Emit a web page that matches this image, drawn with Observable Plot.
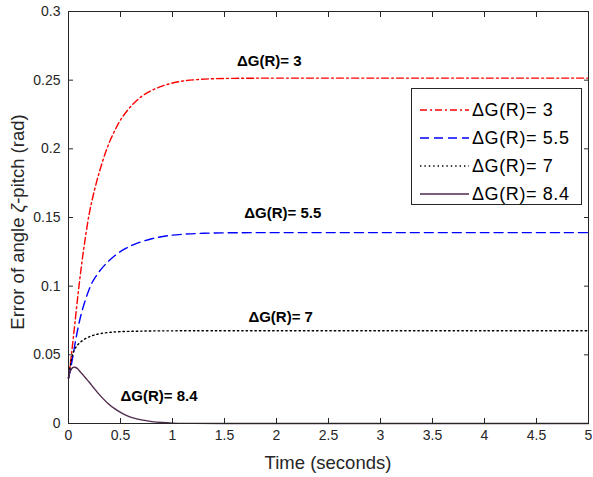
<!DOCTYPE html>
<html><head><meta charset="utf-8">
<script src="https://cdn.jsdelivr.net/npm/d3@7"></script>
<script src="https://cdn.jsdelivr.net/npm/@observablehq/plot@0.6"></script>
<style>
body{margin:0;background:#fff;}
#wrap{position:relative;width:593px;height:477px;font-family:"Liberation Sans",Arial,sans-serif;color:#262626;}
#legend{position:absolute;left:411px;top:88px;width:171px;height:117px;border:1px solid #262626;background:#fff;box-sizing:border-box;}
.row{position:absolute;left:0;height:28px;display:flex;align-items:center;font-size:18px;letter-spacing:0.6px;color:#000;white-space:nowrap;}
.row svg{margin-left:8px;margin-right:3px;}
#ytitle{position:absolute;left:18px;top:222px;transform:translate(-50%,-50%) rotate(-90deg);font-size:18.5px;white-space:nowrap;color:#262626;}
#xtitle{position:absolute;left:328px;top:463px;transform:translate(-50%,-50%);font-size:18.5px;white-space:nowrap;color:#262626;}
</style></head><body><div id="wrap"></div>
<script>
// Series labels
const seriesLabels = ["ΔG(R)= 3", "ΔG(R)= 5.5", "ΔG(R)= 7", "ΔG(R)= 8.4"];
// ΔG(R)=3
const time3 = [0,0.02,0.04,0.06,0.09,0.12,0.15,0.2,0.25,0.3,0.35,0.4,0.45,0.5,0.6,0.7,0.8,0.9,1.0,1.1,1.25,1.4,1.7,2,3,4,5];
const err3  = [0.033,0.045,0.058,0.072,0.093,0.112,0.129,0.153,0.170,0.184,0.196,0.206,0.214,0.221,0.231,0.238,0.2425,0.2457,0.2479,0.2494,0.2505,0.2511,0.2514,0.2515,0.2515,0.2515,0.2515];
// ΔG(R)=5.5
const time55 = [0,0.02,0.04,0.065,0.09,0.12,0.15,0.19,0.23,0.28,0.35,0.45,0.55,0.65,0.8,0.95,1.1,1.3,1.6,2,3,4,5];
const err55  = [0.033,0.040,0.048,0.059,0.069,0.079,0.087,0.096,0.103,0.109,0.1155,0.1225,0.1275,0.131,0.1345,0.1367,0.1378,0.1385,0.1389,0.139,0.139,0.139,0.139];
// ΔG(R)=7
const time7 = [0,0.015,0.03,0.05,0.08,0.12,0.19,0.25,0.31,0.4,0.5,0.65,0.8,1.2,2,3,4,5];
const err7  = [0.033,0.041,0.047,0.0525,0.0565,0.0596,0.0628,0.0645,0.0655,0.0664,0.0669,0.0672,0.0674,0.0675,0.0675,0.0675,0.0675,0.0675];
// ΔG(R)=8.4
const time84 = [0,0.02,0.04,0.06,0.08,0.1,0.13,0.16,0.2,0.24,0.28,0.33,0.38,0.44,0.5,0.56,0.62,0.7,0.8,0.9,1.0,1.2,1.5,2,3,4,5];
const err84  = [0.0335,0.0385,0.0407,0.041,0.0403,0.0388,0.0362,0.0335,0.0300,0.0262,0.0225,0.0183,0.0146,0.0110,0.0081,0.0058,0.0041,0.0026,0.0014,0.0007,0.0003,0.0001,0,0,0,0,0];
// Ticks
const xTicks = [0,0.5,1,1.5,2,2.5,3,3.5,4,4.5,5];
const yTicks = [0,0.05,0.1,0.15,0.2,0.25,0.3];
// In-plot annotations
const annText = ["ΔG(R)= 3", "ΔG(R)= 5.5", "ΔG(R)= 7", "ΔG(R)= 8.4"];
const annTime = [1.93, 2.06, 2.04, 0.87];
const annErr  = [0.2636, 0.153, 0.0772, 0.0197];

const styles = [
  {stroke: "#ff0000", dash: "7,3,2,3"},
  {stroke: "#0000ff", dash: "9,5"},
  {stroke: "#000000", dash: "1.4,3"},
  {stroke: "#4f2a4d", dash: null}
];
const seriesData = [[time3, err3], [time55, err55], [time7, err7], [time84, err84]];

const lineMarks = seriesData.map(([t, e], i) =>
  Plot.line(t.map((tt, j) => ({t: tt, e: e[j]})), {
    x: "t", y: "e", stroke: styles[i].stroke, strokeWidth: 1.4,
    strokeDasharray: styles[i].dash, curve: "catmull-rom"
  })
);

const annotations = annText.map((s, i) => ({s, t: annTime[i], e: annErr[i]}));
const axisColor = "#262626";

const chart = Plot.plot({
  width: 593, height: 477,
  marginLeft: 68, marginRight: 5, marginTop: 11, marginBottom: 54,
  style: {fontFamily: "Liberation Sans, Arial, sans-serif", fontSize: "14px", color: axisColor, background: "#fff"},
  x: {domain: [0, 5]},
  y: {domain: [0, 0.3]},
  marks: [
    ...lineMarks,
    Plot.text(annotations, {x: "t", y: "e", text: "s", fontWeight: "bold", fontSize: 15, fill: "#000"}),
    Plot.frame({stroke: axisColor}),
    Plot.axisX(xTicks, {anchor: "bottom", tickSize: -5, tickPadding: 12, label: null, stroke: axisColor, tickFormat: d => String(d)}),
    Plot.axisX(xTicks, {anchor: "top", tickSize: -5, label: null, stroke: axisColor, tickFormat: () => ""}),
    Plot.axisY(yTicks, {anchor: "left", tickSize: -5, tickPadding: 13, label: null, stroke: axisColor, tickFormat: d => String(d)}),
    Plot.axisY(yTicks, {anchor: "right", tickSize: -5, label: null, stroke: axisColor, tickFormat: () => ""})
  ]
});

const wrap = document.getElementById("wrap");
wrap.appendChild(chart);

// Legend
const legend = document.createElement("div");
legend.id = "legend";
seriesLabels.forEach((lab, i) => {
  const row = document.createElement("div");
  row.className = "row";
  row.style.top = (7 + i * 28) + "px";
  const dash = styles[i].dash ? `stroke-dasharray="${styles[i].dash}"` : "";
  row.innerHTML = `<svg width="49" height="10"><line x1="0" y1="5" x2="49" y2="5" stroke="${styles[i].stroke}" stroke-width="1.4" ${dash}/></svg><span>${lab}</span>`;
  legend.appendChild(row);
});
wrap.appendChild(legend);

const yt = document.createElement("div");
yt.id = "ytitle";
yt.innerHTML = "Error of angle <i>ζ</i>-pitch (rad)";
wrap.appendChild(yt);
const xt = document.createElement("div");
xt.id = "xtitle";
xt.textContent = "Time (seconds)";
wrap.appendChild(xt);
</script>
</body></html>
